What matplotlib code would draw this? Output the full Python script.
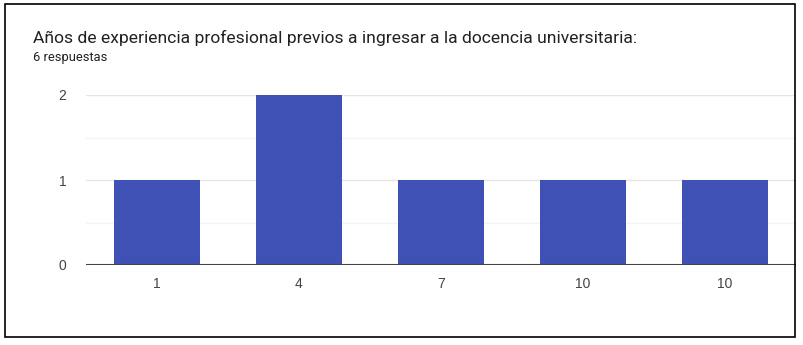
import matplotlib.pyplot as plt
from matplotlib.patches import Rectangle

# Chart data
categories = ["1", "4", "7", "10", "10"]
counts = [1, 2, 1, 1, 1]
title = "Años de experiencia profesional previos a ingresar a la docencia universitaria:"
subtitle = "6 respuestas"

W, H = 804, 345
plt.rcParams["font.family"] = ["Roboto", "DejaVu Sans"]

fig = plt.figure(figsize=(W / 100, H / 100), dpi=100)
ax = fig.add_axes([86 / W, 1 - 265 / H, (796 - 86) / W, (265 - 95) / H])

x = range(len(categories))
ax.bar(x, counts, width=0.61, color="#3f51b5", zorder=3)
ax.set_xlim(-0.5, len(categories) - 0.5)
ax.set_ylim(0, 2)
ax.set_xticks(list(x))
ax.set_xticklabels(categories, family=["Liberation Sans", "DejaVu Sans"])
ax.set_yticks([0, 1, 2])
ax.set_yticklabels(["0", "1", "2"], family=["Liberation Sans", "DejaVu Sans"])

# grid: major lines and lighter half-step lines
for v in [1, 2]:
    ax.axhline(v, color="#e6e6e6", lw=1, zorder=1)
for v in [0.5, 1.5]:
    ax.axhline(v, color="#f4f4f4", lw=1, zorder=1)
ax.axhline(0, color="#444444", lw=1.5, zorder=4)

for s in ax.spines.values():
    s.set_visible(False)
ax.tick_params(length=0, labelsize=10, colors="#444444")
ax.tick_params(axis="x", pad=9)
ax.tick_params(axis="y", pad=14)

fig.text(33 / W, 1 - 38 / H, title, fontsize=12.6, color="#202124", va="center")
fig.text(33 / W, 1 - 58 / H, subtitle, fontsize=9.3, color="#202124", va="center")

# outer frame
fig.patches.append(Rectangle((5 / W, 1 - 337 / H), 790 / W, 333 / H,
                             transform=fig.transFigure, fill=False,
                             edgecolor="black", lw=1.2))

fig.savefig("out.png", dpi=100)
